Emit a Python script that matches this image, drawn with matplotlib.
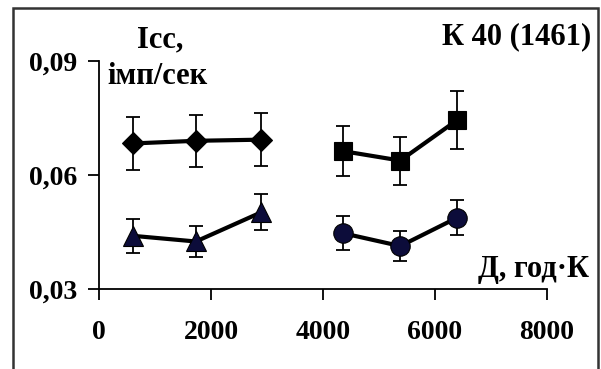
import matplotlib.pyplot as plt
from matplotlib.patches import Rectangle

# values
x_left = [600, 1730, 2900]
x_right = [4350, 5380, 6400]

diam_y = [0.0683, 0.0690, 0.0693]
diam_err = [0.0070, 0.0069, 0.0069]
tri_y = [0.0440, 0.0425, 0.0502]
tri_err = [0.0045, 0.0042, 0.0048]
sq_y = [0.0663, 0.0638, 0.0745]
sq_err = [0.0066, 0.0063, 0.0076]
circ_y = [0.0447, 0.0413, 0.0488]
circ_err = [0.0045, 0.0039, 0.0046]

xticks = [0, 2000, 4000, 6000, 8000]
yticks = [0.03, 0.06, 0.09]
ytick_labels = ["0,03", "0,06", "0,09"]

plt.rcParams['font.family'] = ['Liberation Serif', 'DejaVu Serif']
plt.rcParams['font.weight'] = 'bold'

fig = plt.figure(figsize=(6.01, 3.69), dpi=100)
W, H = 601, 369
ax = fig.add_axes([99 / W, 1 - 289 / H, (547 - 99) / W, (289 - 61) / H])

navy = '#0c0c3a'
series = [
    (x_left, diam_y, diam_err, 'D', 'black', 11),
    (x_left, tri_y, tri_err, '^', navy, 14),
    (x_right, sq_y, sq_err, 's', 'black', 13),
    (x_right, circ_y, circ_err, 'o', navy, 14),
]
for xs, ys, es, m, c, ms in series:
    ax.errorbar(xs, ys, yerr=es, fmt='none', ecolor='black', elinewidth=1.3,
                capsize=5, capthick=1.3, zorder=2)
    ax.plot(xs, ys, color='black', lw=3, zorder=3)
    ax.plot(xs, ys, ls='none', marker=m, ms=ms, color=c, mec='black',
            mew=0.8, zorder=4)

ax.set_xlim(0, 8000)
ax.set_ylim(0.03, 0.09)
ax.set_xticks(xticks)
ax.set_xticklabels([str(v) for v in xticks])
ax.set_yticks(yticks)
ax.set_yticklabels(ytick_labels)
ax.tick_params(axis='both', direction='out', length=8, width=1.3,
               labelsize=20, pad=8)
ax.tick_params(axis='x', pad=14)
for s in ['top', 'right']:
    ax.spines[s].set_visible(False)
for s in ['left', 'bottom']:
    ax.spines[s].set_linewidth(1.3)

fig.text(160 / W, 1 - 40 / H, "Icc,", ha='center', va='center', fontsize=22,
         fontweight='bold')
fig.text(158 / W, 1 - 76 / H, "імп/сек", ha='center', va='center',
         fontsize=22, fontweight='bold')
fig.text(591 / W, 1 - 37 / H, "К 40 (1461)", ha='right', va='center',
         fontsize=22, fontweight='bold')
fig.text(589 / W, 1 - 270 / H, "Д, год·К", ha='right', va='center',
         fontsize=22, fontweight='bold')

fig.patches.append(Rectangle((13 / W, -0.05), (598 - 13) / W, 1 - 8 / H + 0.05,
                             transform=fig.transFigure, fill=False,
                             edgecolor='#333333', lw=1.8))

fig.savefig('out.png', dpi=100)
